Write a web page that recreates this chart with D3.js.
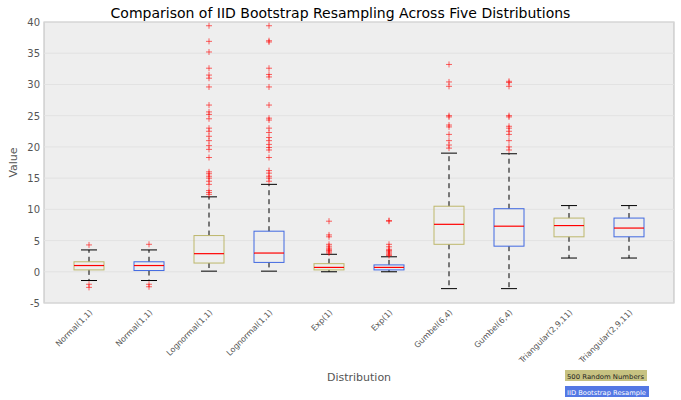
<!DOCTYPE html>
<html><head><meta charset="utf-8">
<script src="https://cdn.jsdelivr.net/npm/d3@7"></script>
<style>body{margin:0;background:#fff;font-family:"DejaVu Sans",sans-serif}</style>
</head><body><div id="chart"></div>
<script>
var labels = ["Normal(1,1)","Normal(1,1)","Lognormal(1,1)","Lognormal(1,1)","Exp(1)","Exp(1)","Gumbel(6,4)","Gumbel(6,4)","Triangular(2,9,11)","Triangular(2,9,11)"];
var q1 = [0.3,0.2,1.4,1.5,0.3,0.3,4.4,4.1,5.6,5.6];
var med = [1.0,1.0,2.9,3.0,0.7,0.7,7.6,7.3,7.4,7.0];
var q3 = [1.6,1.6,5.8,6.5,1.3,1.1,10.5,10.1,8.6,8.6];
var wlo = [-1.4,-1.4,0.1,0.1,0,0,-2.7,-2.7,2.2,2.2];
var whi = [3.5,3.5,12.0,14.0,2.8,2.4,19.0,18.9,10.6,10.6];
var outliers = [
  [4.3,-2.0,-2.5],
  [4.4,-2.0,-2.4],
  [12.4,12.7,13,14,14.5,15,15.3,15.7,16,18.3,19.6,20.2,21,21.7,22.5,23,24.5,25.2,25.6,26.7,29.6,31,31.5,32.6,35.2,36.9,39.4],
  [14.5,15,15.3,15.8,16.2,18.3,19.5,19.9,20.4,21,21.5,22.3,23,24.3,24.6,26.7,29.6,31.2,31.6,32.6,36.8,37,39.4],
  [3,3.2,3.4,3.6,3.8,4.1,4.4,5.6,5.9,8.1],
  [2.6,2.8,3.0,3.2,3.4,3.6,4,4.4,8.1,8.2],
  [19.8,20.3,21,22,23.2,23.5,24.8,25,29.7,30.4,33.2],
  [19.5,20,21,22,22.5,23,23.3,24.8,25,29.7,30.3,30.5],
  [],[]
];
var yTicks = [-5,0,5,10,15,20,25,30,35,40];
var legendNames = ["500 Random Numbers","IID Bootstrap Resample"];
var colors = ["#bdb76b","#4169e1"];

var W=681,H=400,m={l:44,r:7,t:22,b:97};
var svg=d3.select("#chart").append("svg").attr("width",W).attr("height",H);
var x=d3.scaleBand().domain(d3.range(labels.length)).range([m.l,W-m.r]).padding(0.5);
var y=d3.scaleLinear().domain([-5,40]).range([H-m.b,m.t]);

svg.append("rect").attr("x",m.l).attr("y",m.t).attr("width",W-m.l-m.r).attr("height",H-m.t-m.b)
  .attr("fill","#eeeeee").attr("stroke","#bbb");
yTicks.forEach(function(t){
  svg.append("line").attr("x1",m.l).attr("x2",W-m.r).attr("y1",y(t)).attr("y2",y(t)).attr("stroke","#e2e2e2");
  svg.append("text").attr("x",m.l-4).attr("y",y(t)+4).attr("text-anchor","end")
    .style("font-size","10px").attr("fill","#555").text(t);
});

labels.forEach(function(l,i){
  var cx=x(i)+x.bandwidth()/2, bw=x.bandwidth(), c=colors[i%2];
  var g=svg.append("g");
  g.append("line").attr("x1",cx).attr("x2",cx).attr("y1",y(q3[i])).attr("y2",y(whi[i])).attr("stroke","#000").attr("stroke-dasharray","5,4");
  g.append("line").attr("x1",cx).attr("x2",cx).attr("y1",y(q1[i])).attr("y2",y(wlo[i])).attr("stroke","#000").attr("stroke-dasharray","5,4");
  [whi[i],wlo[i]].forEach(function(v){
    g.append("line").attr("x1",cx-8).attr("x2",cx+8).attr("y1",y(v)).attr("y2",y(v)).attr("stroke","#000");
  });
  g.append("rect").attr("x",cx-bw/2).attr("width",bw).attr("y",y(q3[i])).attr("height",y(q1[i])-y(q3[i]))
    .attr("fill","none").attr("stroke",c);
  g.append("line").attr("x1",cx-bw/2).attr("x2",cx+bw/2).attr("y1",y(med[i])).attr("y2",y(med[i])).attr("stroke","red").attr("stroke-width",1.2);
  outliers[i].forEach(function(v){
    g.append("path").attr("d","M"+(cx-3)+","+y(v)+"h6M"+cx+","+(y(v)-3)+"v6").attr("stroke","red").attr("stroke-opacity",0.6);
  });
  svg.append("text").attr("transform","translate("+(cx+4)+","+(H-m.b+10)+") rotate(-45)")
    .attr("text-anchor","end").style("font-size","8px").attr("fill","#555").text(l);
});

svg.append("text").attr("x",W/2).attr("y",18).attr("text-anchor","middle").style("font-size","14px").text("Comparison of IID Bootstrap Resampling Across Five Distributions");
svg.append("text").attr("x",(m.l+W-m.r)/2).attr("y",381).attr("text-anchor","middle").style("font-size","11px").attr("fill","#555").text("Distribution");
svg.append("text").attr("transform","translate(17,"+((m.t+H-m.b)/2)+") rotate(-90)").attr("text-anchor","middle").style("font-size","11px").attr("fill","#555").text("Value");

legendNames.forEach(function(n,i){
  var ly=370+i*16;
  svg.append("rect").attr("x",565).attr("y",ly).attr("width",i?84:82).attr("height",11).attr("fill",colors[i]).attr("opacity",i?0.9:0.85);
  svg.append("text").attr("x",567).attr("y",ly+8.5).style("font-size","6.5px").attr("fill",i?"#fff":"#222")
    .attr("textLength",i?79:77).attr("lengthAdjust","spacingAndGlyphs").text(n);
});
</script></body></html>
